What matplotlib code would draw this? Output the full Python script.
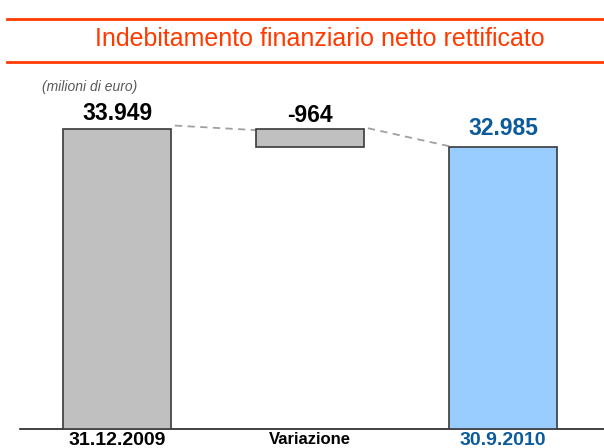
import matplotlib
matplotlib.use("Agg")
import matplotlib.pyplot as plt
from matplotlib import font_manager

categories = ["31.12.2009", "Variazione", "30.9.2010"]
start_value = 33949
change_value = -964
end_value = 32985
value_labels = ["33.949", "-964", "32.985"]

names = {f.name for f in font_manager.fontManager.ttflist}
base_font = "Liberation Sans" if "Liberation Sans" in names else "DejaVu Sans"
plt.rcParams["font.family"] = [base_font, "DejaVu Sans"]

W, H = 604, 448
fig = plt.figure(figsize=(W / 100, H / 100), dpi=100)
fig.patch.set_facecolor("white")

orange = "#FF3A00"
gray = "#C0C0C0"
edge = "#3A3A3A"
blue_bar = "#99CCFF"
blue_txt = "#0B5A9A"

# title and rules
fig.add_artist(plt.Line2D([7 / W, 1], [1 - 19 / H, 1 - 19 / H], color=orange, lw=2))
fig.add_artist(plt.Line2D([7 / W, 1], [1 - 62 / H, 1 - 62 / H], color=orange, lw=2))
fig.text(320 / W, 1 - 46 / H, "Indebitamento finanziario netto rettificato",
         ha="center", va="baseline", color=orange, fontsize=18)
fig.text(42 / W, 1 - 87 / H, "(milioni di euro)", ha="left", va="center",
         color="#585858", fontsize=10, style="italic")

# axes: bottom pixel 429, top pixel 99
ax = fig.add_axes([20 / W, 19 / H, 584 / W, 330 / H])
ymin = 18150
units_per_px = (start_value - ymin) / 300.0
ax.set_ylim(ymin, ymin + 330 * units_per_px)
ax.set_xlim(-0.503, 2.523)

x = [0, 1, 2]
bw = 0.56
ax.bar(x[0], start_value - ymin, bottom=ymin, width=bw, color=gray, edgecolor=edge, lw=1.2, zorder=3)
ax.bar(x[1], -change_value, bottom=start_value + change_value, width=bw, color=gray,
       edgecolor=edge, lw=1.2, zorder=3)
ax.bar(x[2], end_value - ymin, bottom=ymin, width=bw, color=blue_bar, edgecolor=edge, lw=1.2, zorder=3)

# dashed connectors
ax.plot([x[0] + bw / 2 + 0.02, x[1] - bw / 2], [start_value + 180, start_value - 60],
        ls=(0, (4, 3)), color="#A0A0A0", lw=1.3, zorder=2)
ax.plot([x[1] + bw / 2 + 0.02, x[2] - bw / 2], [start_value + 40, end_value + 60],
        ls=(0, (4, 3)), color="#A0A0A0", lw=1.3, zorder=2)

# value labels
ax.text(x[0], start_value + 9 * units_per_px, value_labels[0], ha="center", va="baseline",
        fontsize=16.5, fontweight="bold", color="black")
ax.text(x[1], start_value + 7 * units_per_px, value_labels[1], ha="center", va="baseline",
        fontsize=16.5, fontweight="bold", color="black")
ax.text(x[2], end_value + 12 * units_per_px, value_labels[2], ha="center", va="baseline",
        fontsize=16.5, fontweight="bold", color=blue_txt)

for s in ["top", "right", "left"]:
    ax.spines[s].set_visible(False)
ax.spines["bottom"].set_color("#222222")
ax.spines["bottom"].set_linewidth(1.2)
ax.set_yticks([])
ax.set_xticks(x)
ax.set_xticklabels(categories, fontsize=14, fontweight="bold")
ax.tick_params(axis="x", length=0, pad=2)
for lbl, c in zip(ax.get_xticklabels(), ["black", "black", blue_txt]):
    lbl.set_color(c)
ax.get_xticklabels()[1].set_fontsize(12)
ax.patch.set_alpha(0)

fig.savefig("out.png", dpi=100, facecolor="white")
